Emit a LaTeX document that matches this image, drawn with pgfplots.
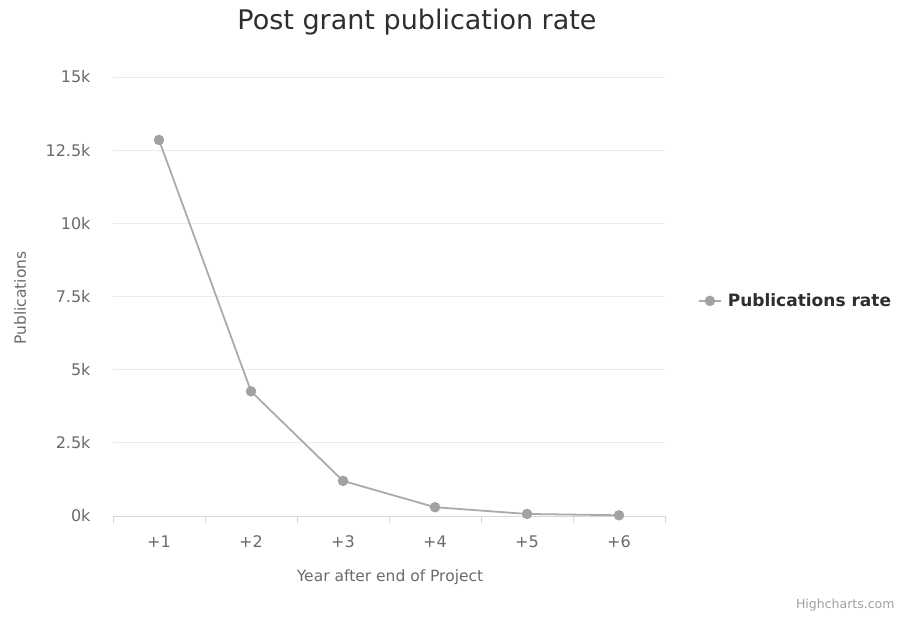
\documentclass[border=0pt]{standalone}
\usepackage{pgfplots}
\pgfplotsset{compat=1.18}
\usepackage{fontspec}
\setmainfont{DejaVu Sans}
\definecolor{linegray}{HTML}{ABABAB}
\definecolor{markgray}{HTML}{A2A2A2}
\definecolor{gridgray}{HTML}{ECECEC}
\definecolor{axisgray}{HTML}{D8D8D8}
\definecolor{labelgray}{HTML}{6A6A6A}
\definecolor{titlegray}{HTML}{2E2E2E}
\definecolor{creditgray}{HTML}{A0A0A0}
\begin{document}
\begin{tikzpicture}
\useasboundingbox (0,0) rectangle (901pt,618pt);
\begin{axis}[
  at={(113pt,102pt)}, anchor=south west,
  scale only axis, width=552pt, height=439pt,
  xmin=0.5, xmax=6.5, ymin=0, ymax=15000,
  axis x line*=bottom, axis y line*=left,
  y axis line style={draw=none},
  x axis line style={draw=axisgray, line width=0.8pt, -},
  xtick={1,2,3,4,5,6},
  xticklabels={+1,+2,+3,+4,+5,+6},
  major x tick style={draw=none},
  extra x ticks={0.5,1.5,2.5,3.5,4.5,5.5,6.5},
  extra x tick labels={},
  extra x tick style={major tick length=7pt, tick align=outside, major x tick style={draw=axisgray, line width=0.8pt}, xmajorgrids=false},
  ytick={0,2500,5000,7500,10000,12500,15000},
  yticklabels={0k,2.5k,5k,7.5k,10k,12.5k,15k},
  major y tick style={draw=none},
  scaled y ticks=false,
  ymajorgrids,
  grid style={draw=gridgray, line width=0.7pt},
  tick label style={font=\fontsize{16}{16}\selectfont, text=labelgray},
  yticklabel style={xshift=-19pt},
  xticklabel style={yshift=-16pt},
  legend style={draw=none, fill=none, at={(1.054,0.49)}, anchor=west,
    font=\fontsize{17}{17}\selectfont\bfseries, text=titlegray,
    nodes={inner xsep=6pt}},
  legend cell align=left,
  legend image code/.code={\draw[#1, mark=none] plot coordinates {(0pt,0pt) (22pt,0pt)};
    \draw[#1, only marks] plot coordinates {(11pt,0pt)};},
  clip=false,
]
\addplot[color=linegray, line width=1.8pt, mark=*, mark size=4.3pt,
  mark options={fill=markgray, draw=markgray}] coordinates {
  (1,12850) (2,4260) (3,1200) (4,300) (5,70) (6,25)
};
\addlegendentry{Publications rate}
\end{axis}
\node[font=\fontsize{27}{27}\selectfont, text=titlegray] at (417pt,596pt) {Post grant publication rate};
\node[font=\fontsize{15.5}{15.5}\selectfont, text=labelgray] at (390pt,41pt) {Year after end of Project};
\node[font=\fontsize{15.5}{15.5}\selectfont, text=labelgray, rotate=90] at (20pt,320pt) {Publications};
\node[font=\fontsize{12.5}{12.5}\selectfont, text=creditgray, anchor=east] at (898pt,13pt) {Highcharts.com};
\end{tikzpicture}
\end{document}
